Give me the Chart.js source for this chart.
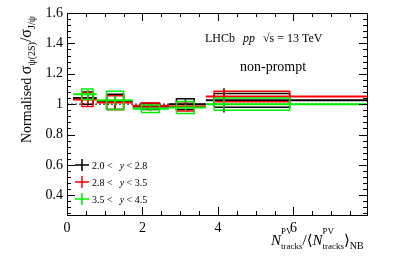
<!DOCTYPE html>
<html>
<head>
<meta charset="utf-8">
<script src="https://cdn.jsdelivr.net/npm/chart.js@4"></script>
<style>
  html, body { margin: 0; padding: 0; background: #fff; }
  #wrap { width: 399px; height: 257px; }
</style>
</head>
<body>
<div id="wrap"><canvas id="c" width="399" height="257"></canvas></div>
<script>
// Bins in N_tracks / <N_tracks>_NB
const binLo = [0.16, 0.79, 1.74, 2.70, 3.68];
const binHi = [0.79, 1.74, 2.70, 3.68, 7.95];
const xMean = [0.55, 1.27, 2.21, 3.14, 4.16];
const boxLo = [0.39, 1.05, 1.97, 2.90, 3.90];
const boxHi = [0.69, 1.50, 2.45, 3.37, 5.90];

// Normalised ratio per rapidity interval
const labels = ['2.0 <  y < 2.8', '2.8 <  y < 3.5', '3.5 <  y < 4.5'];
const blackVal = [1.040, 1.015, 0.985, 1.000, 1.025];
const blackStat = [0.050, 0.045, 0.025, 0.030, 0.080];
const blackSyst = [0.040, 0.050, 0.020, 0.035, 0.045];
const redVal = [1.030, 1.010, 0.990, 0.985, 1.050];
const redStat = [0.030, 0.030, 0.015, 0.020, 0.030];
const redSyst = [0.045, 0.045, 0.017, 0.030, 0.035];
const greenVal = [1.065, 1.025, 0.970, 0.978, 1.000];
const greenStat = [0.030, 0.030, 0.015, 0.020, 0.030];
const greenSyst = [0.035, 0.060, 0.025, 0.040, 0.040];

const xTicks = [0, 2, 4, 6];
const yTicks = [0.4, 0.6, 0.8, 1.0, 1.2, 1.4, 1.6];

const colors = ['#000000', '#ff0000', '#00ee00'];
const serif = '"Liberation Serif", "DejaVu Serif", serif';

// Build line segments separated by gaps
function binLines(vals) {
    const pts = [];
    vals.forEach((v, i) => {
        pts.push({ x: binLo[i], y: v }, { x: binHi[i], y: v }, { x: binHi[i], y: null });
    });
    return pts;
}

function boxes(vals, syst) {
    const pts = [];
    vals.forEach((v, i) => {
        const lo = v - syst[i], hi = v + syst[i];
        pts.push({ x: boxLo[i], y: lo }, { x: boxHi[i], y: lo }, { x: boxHi[i], y: hi },
                 { x: boxLo[i], y: hi }, { x: boxLo[i], y: lo }, { x: boxLo[i], y: null });
    });
    return pts;
}

function errBars(vals, stat) {
    const pts = [];
    vals.forEach((v, i) => {
        pts.push({ x: xMean[i], y: v - stat[i] }, { x: xMean[i], y: v + stat[i] }, { x: xMean[i], y: null });
    });
    return pts;
}

function seriesSets(vals, stat, syst, color) {
    return [
        { data: binLines(vals), borderColor: color, borderWidth: 2 },
        { data: boxes(vals, syst), borderColor: color, borderWidth: 1.5 },
        { data: errBars(vals, stat), borderColor: color, borderWidth: 1.5 }
    ];
}

// green on top, black at the bottom
const datasets = [
    ...seriesSets(greenVal, greenStat, greenSyst, colors[2]),
    ...seriesSets(redVal, redStat, redSyst, colors[1]),
    ...seriesSets(blackVal, blackStat, blackSyst, colors[0]),
    { data: [{ x: 0, y: 1 }, { x: 7.95, y: 1 }], borderColor: '#000', borderWidth: 1, borderDash: [2, 2] }
].map(d => Object.assign({ type: 'line', pointRadius: 0, spanGaps: false, fill: false, tension: 0 }, d));

// Frame, ticks, labels and annotations in ROOT style
const rootStyle = {
    id: 'rootStyle',
    afterDatasetsDraw(chart) {
        const ctx = chart.ctx;
        const a = chart.chartArea;
        const xs = chart.scales.x, ys = chart.scales.y;
        ctx.save();
        ctx.strokeStyle = '#000';
        ctx.fillStyle = '#000';
        ctx.lineWidth = 1;
        ctx.strokeRect(a.left + 0.5, a.top + 0.5, a.right - a.left, a.bottom - a.top);

        ctx.beginPath();
        for (let v = 0; v <= 7.9; v += 0.5) {
            const p = Math.round(xs.getPixelForValue(v)) + 0.5;
            const len = Math.abs(v % 2) < 1e-6 ? 8 : 4;
            ctx.moveTo(p, a.bottom); ctx.lineTo(p, a.bottom - len);
            ctx.moveTo(p, a.top); ctx.lineTo(p, a.top + len);
        }
        for (let k = 0; k <= 40; k++) {
            const v = 0.28 + k * 0.04;
            if (v > 1.601) break;
            const p = Math.round(ys.getPixelForValue(v)) + 0.5;
            const major = Math.abs(((v * 100) % 20)) < 0.5 || Math.abs(((v * 100) % 20) - 20) < 0.5;
            const len = major ? 8 : 4;
            ctx.moveTo(a.left, p); ctx.lineTo(a.left + len, p);
            ctx.moveTo(a.right, p); ctx.lineTo(a.right - len, p);
        }
        ctx.stroke();

        // tick labels
        ctx.font = '14px ' + serif;
        ctx.textAlign = 'center';
        ctx.textBaseline = 'middle';
        xTicks.forEach(v => ctx.fillText(String(v), xs.getPixelForValue(v), a.bottom + 13));
        ctx.textAlign = 'right';
        yTicks.forEach(v => ctx.fillText(v === 1 ? '1' : v.toFixed(1), a.left - 4, ys.getPixelForValue(v)));

        // x title
        ctx.textAlign = 'left';
        ctx.textBaseline = 'alphabetic';
        let x = 271;
        const base = 245;
        function put(txt, font, dy) {
            ctx.font = font;
            ctx.fillText(txt, x, base + dy);
            return ctx.measureText(txt).width;
        }
        const big = 'italic 15px ' + serif, sm = '9px ' + serif, reg = '15px ' + serif;
        x += put('N', big, 0);
        const x0 = x;
        const w1 = put('PV', sm, -11);
        x = x0;
        const w2 = put('tracks', sm, 4);
        x = x0 + Math.max(w1, w2);
        x += put('/\u27E8', reg, 0);
        x += put('N', big, 0);
        const x1 = x;
        const w3 = put('PV', sm, -11);
        x = x1;
        const w4 = put('tracks', sm, 4);
        x = x1 + Math.max(w3, w4);
        x += put('\u27E9', reg, 0);
        put('NB', '10px ' + serif, 4);

        // y title (rotated)
        ctx.save();
        ctx.translate(31, 143);
        ctx.rotate(-Math.PI / 2);
        x = 0;
        function putR(txt, font, dy) {
            ctx.font = font;
            ctx.fillText(txt, x, dy);
            return ctx.measureText(txt).width;
        }
        x += putR('Normalised ', '14px ' + serif, 0);
        x += putR('\u03C3', '16px ' + serif, 0);
        x += putR('\u03C8(2S)', '10px ' + serif, 4);
        x += putR('/\u03C3', '16px ' + serif, 0);
        putR('J/\u03C8', '10px ' + serif, 4);
        ctx.restore();

        // annotations
        ctx.font = '12px ' + serif;
        x = 205;
        ctx.fillText('LHCb', x, 42);
        x += ctx.measureText('LHCb  ').width + 2;
        ctx.font = 'italic 12px ' + serif;
        ctx.fillText('pp', x, 42);
        x += ctx.measureText('pp').width + 8;
        ctx.font = '12px ' + serif;
        ctx.fillText('\u221As = 13 TeV', x, 42);
        ctx.font = '14px ' + serif;
        ctx.fillText('non-prompt', 240, 71);

        // legend
        const rows = [165, 182, 199];
        rows.forEach((yy, i) => {
            ctx.strokeStyle = colors[i];
            ctx.lineWidth = 1.5;
            ctx.beginPath();
            ctx.moveTo(75, yy); ctx.lineTo(89, yy);
            ctx.moveTo(82, yy - 6); ctx.lineTo(82, yy + 6);
            ctx.stroke();
            ctx.fillStyle = '#000';
            const parts = labels[i].split('y');
            ctx.font = '10px ' + serif;
            let lx = 92;
            ctx.textBaseline = 'middle';
            ctx.fillText(parts[0], lx, yy + 1);
            lx += ctx.measureText(parts[0]).width + 2;
            ctx.font = 'italic 10px ' + serif;
            ctx.fillText('y', lx, yy + 1);
            lx += ctx.measureText('y').width;
            ctx.font = '10px ' + serif;
            ctx.fillText(parts[1], lx, yy + 1);
        });
        ctx.restore();
    }
};

new Chart(document.getElementById('c'), {
    type: 'line',
    data: { datasets: datasets },
    options: {
        responsive: false,
        animation: false,
        layout: { padding: { left: 67, right: 32, top: 13, bottom: 42 } },
        plugins: { legend: { display: false }, tooltip: { enabled: false } },
        scales: {
            x: { type: 'linear', min: 0, max: 7.95, display: false },
            y: { type: 'linear', min: 0.27, max: 1.6, display: false }
        }
    },
    plugins: [rootStyle]
});
</script>
</body>
</html>
